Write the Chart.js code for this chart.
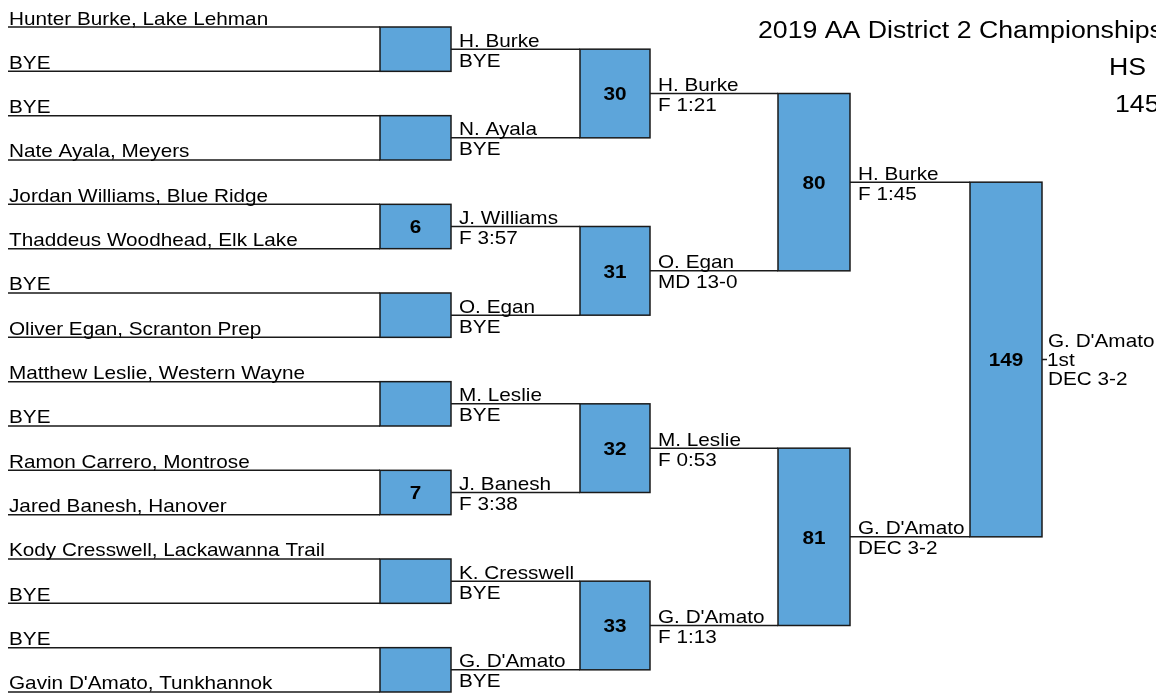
<!DOCTYPE html>
<html><head><meta charset="utf-8">
<script src="https://cdn.jsdelivr.net/npm/chart.js@4.4.1/dist/chart.umd.min.js"></script>
<style>html,body{margin:0;padding:0;background:#fff;overflow:hidden}#wrap{width:1156px;height:698px;position:relative}</style>
</head><body><div id="wrap"><canvas id="c" width="1156" height="698"></canvas></div>
<script>
// ---------------- data ----------------
const titleLines = ["2019 AA District 2 Championships", "HS", "145"];
const entrants = [
  "Hunter Burke, Lake Lehman", "BYE", "BYE", "Nate Ayala, Meyers",
  "Jordan Williams, Blue Ridge", "Thaddeus Woodhead, Elk Lake", "BYE", "Oliver Egan, Scranton Prep",
  "Matthew Leslie, Western Wayne", "BYE", "Ramon Carrero, Montrose", "Jared Banesh, Hanover",
  "Kody Cresswell, Lackawanna Trail", "BYE", "BYE", "Gavin D'Amato, Tunkhannok"
];
const round1Winners = ["H. Burke", "N. Ayala", "J. Williams", "O. Egan", "M. Leslie", "J. Banesh", "K. Cresswell", "G. D'Amato"];
const round1Results = ["BYE", "BYE", "F 3:57", "BYE", "BYE", "F 3:38", "BYE", "BYE"];
const round1Bouts = ["", "", "6", "", "", "7", "", ""];
const round2Winners = ["H. Burke", "O. Egan", "M. Leslie", "G. D'Amato"];
const round2Results = ["F 1:21", "MD 13-0", "F 0:53", "F 1:13"];
const round2Bouts = ["30", "31", "32", "33"];
const round3Winners = ["H. Burke", "G. D'Amato"];
const round3Results = ["F 1:45", "DEC 3-2"];
const round3Bouts = ["80", "81"];
const finalWinner = ["G. D'Amato"];
const finalPlace = ["1st"];
const finalResult = ["DEC 3-2"];
const finalBout = ["149"];

// ---------------- layout ----------------
const W = 1156, H = 698;
const TOP_PX = 27, UNIT_PX = 44.333;
const NAME_X = 8;
const COLS = [{x0: 380, x1: 451}, {x0: 580, x1: 650}, {x0: 778, x1: 850}, {x0: 970, x1: 1042}];
const FONT = '"Liberation Sans", Arial, sans-serif';
const FS = 18.5, SX = 1.12;
const TITLE_FS = 23, TITLE_SX = 1.16;
const LINE_COLOR = '#1a1a1a', BOX_FILL = '#5DA5DA';

const rounds = [
  {winners: round1Winners, results: round1Results, bouts: round1Bouts},
  {winners: round2Winners, results: round2Results, bouts: round2Bouts},
  {winners: round3Winners, results: round3Results, bouts: round3Bouts},
  {winners: finalWinner, results: finalResult, bouts: finalBout, place: finalPlace}
];

// compute slot positions (in bracket units) for each level
const levels = [entrants.map((_, i) => i)];
const matches = [];
rounds.forEach((r, ri) => {
  const prev = levels[ri];
  const cur = [], ms = [];
  for (let m = 0; m < r.winners.length; m++) {
    const top = prev[2 * m], bot = prev[2 * m + 1];
    cur.push((top + bot) / 2);
    ms.push({top, bot, mid: (top + bot) / 2});
  }
  levels.push(cur);
  matches.push(ms);
});

// line dataset points
const linePts = [];
function seg(x0, x1, y) { linePts.push({x: x0, y}, {x: x1, y}, {x: null, y: null}); }
levels[0].forEach(y => seg(NAME_X, COLS[0].x0, y));
for (let l = 1; l <= 3; l++) levels[l].forEach(y => seg(COLS[l - 1].x1, COLS[l].x0, y));
levels[4].forEach(y => seg(COLS[3].x1, COLS[3].x1 + 5, y));

function txt(ctx, s, x, y, opt) {
  ctx.save();
  ctx.translate(x, y);
  ctx.scale(opt.sx || SX, 1);
  ctx.font = (opt.bold ? 'bold ' : '') + (opt.size || FS) + 'px ' + FONT;
  ctx.textAlign = opt.align || 'left';
  ctx.textBaseline = 'alphabetic';
  ctx.fillStyle = '#000';
  ctx.fillText(s, 0, 0);
  ctx.restore();
}

const bracketPlugin = {
  id: 'bracket',
  afterDatasetsDraw(chart) {
    const ctx = chart.ctx, xs = chart.scales.x, ys = chart.scales.y;
    const px = v => xs.getPixelForValue(v), py = v => ys.getPixelForValue(v);
    // boxes
    matches.forEach((ms, ri) => {
      ms.forEach((m, mi) => {
        const x0 = px(COLS[ri].x0), x1 = px(COLS[ri].x1);
        const y0 = py(m.top), y1 = py(m.bot);
        ctx.save();
        ctx.fillStyle = BOX_FILL;
        ctx.fillRect(x0, y0, x1 - x0, y1 - y0);
        ctx.strokeStyle = LINE_COLOR;
        ctx.lineWidth = 1.5;
        ctx.strokeRect(x0, y0, x1 - x0, y1 - y0);
        ctx.restore();
        const b = rounds[ri].bouts[mi];
        if (b) txt(ctx, b, (x0 + x1) / 2, (y0 + y1) / 2 + 6.8, {bold: true, align: 'center'});
      });
    });
    // entrant names
    entrants.forEach((n, i) => txt(ctx, n, px(NAME_X + 1), py(levels[0][i]) - 2.5, {}));
    // winners & results
    rounds.forEach((r, ri) => {
      const x = px(COLS[ri].x1) + (ri === 3 ? 5 : 8);
      r.winners.forEach((w, mi) => {
        const y = py(levels[ri + 1][mi]);
        if (r.place) {
          txt(ctx, w, x + 1, y - 12.5, {});
          txt(ctx, r.place[mi], x, y + 6.5, {});
          txt(ctx, r.results[mi], x + 1, y + 25.5, {});
        } else {
          txt(ctx, w, x, y - 2.5, {});
          txt(ctx, r.results[mi], x, y + 17.5, {});
        }
      });
    });
    // title
    const tOpt = {size: TITLE_FS, sx: TITLE_SX};
    txt(ctx, titleLines[0], px(758), 38, tOpt);
    txt(ctx, titleLines[1], px(1109), 75, tOpt);
    txt(ctx, titleLines[2], px(1115), 112, tOpt);
  }
};

new Chart(document.getElementById('c'), {
  type: 'scatter',
  data: {
    datasets: [{
      data: linePts,
      showLine: true,
      spanGaps: false,
      borderColor: LINE_COLOR,
      borderWidth: 1.5,
      pointRadius: 0,
      pointHoverRadius: 0,
      tension: 0
    }]
  },
  options: {
    responsive: false,
    animation: false,
    devicePixelRatio: 1,
    layout: {padding: 0},
    plugins: {legend: {display: false}, tooltip: {enabled: false}, title: {display: false}},
    events: [],
    scales: {
      x: {type: 'linear', display: false, min: 0, max: W},
      y: {type: 'linear', display: false, reverse: true,
          min: -TOP_PX / UNIT_PX, max: -TOP_PX / UNIT_PX + H / UNIT_PX}
    }
  },
  plugins: [bracketPlugin]
});
</script>
</body></html>
